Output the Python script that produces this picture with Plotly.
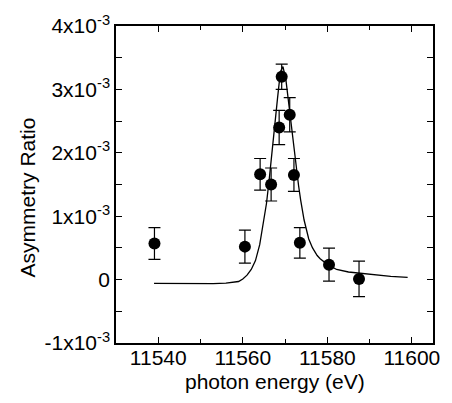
import plotly.graph_objects as go

# data (asymmetry values in units of 1e-3)
energy = [11539.1, 11560.5, 11564.1, 11566.7, 11568.6, 11569.2, 11571.1, 11572.1, 11573.5, 11580.4, 11587.5]
asym = [0.57, 0.52, 1.66, 1.50, 2.40, 3.20, 2.60, 1.65, 0.58, 0.235, 0.01]
err = [0.25, 0.26, 0.25, 0.26, 0.27, 0.20, 0.27, 0.26, 0.24, 0.26, 0.28]

fit_e = [11539, 11545, 11550, 11553, 11556, 11558, 11559, 11560, 11561, 11562, 11563, 11564,
         11565, 11565.6, 11566.2, 11566.8, 11567.5, 11568.2, 11568.9, 11569.5, 11570.2, 11571,
         11572, 11572.6, 11573.2, 11573.7, 11574.5, 11575.6, 11576.5, 11577.6, 11578.3, 11580,
         11582.2, 11585, 11590, 11595, 11599]
fit_v = [-0.06, -0.065, -0.07, -0.065, -0.055, -0.04, -0.03, 0.01, 0.07, 0.16, 0.30, 0.55,
         0.95, 1.20, 1.55, 1.97, 2.40, 2.85, 3.28, 3.36, 3.15, 2.70,
         2.10, 1.75, 1.48, 1.25, 0.94, 0.64, 0.50, 0.38, 0.33, 0.24,
         0.16, 0.12, 0.08, 0.05, 0.035]

ytick_vals = [-1, 0, 1, 2, 3, 4]
ytick_text = ["-1x10<sup>-3</sup>", "0", "1x10<sup>-3</sup>", "2x10<sup>-3</sup>",
              "3x10<sup>-3</sup>", "4x10<sup>-3</sup>"]
xtick_vals = [11540, 11560, 11580, 11600]
xtick_text = ["11540", "11560", "11580", "11600"]

font = dict(family="Liberation Sans, Arial, sans-serif", size=21, color="black")

fig = go.Figure()
fig.add_trace(go.Scatter(x=fit_e, y=fit_v, mode="lines",
                         line=dict(color="black", width=1.3), hoverinfo="skip"))
fig.add_trace(go.Scatter(x=energy, y=asym, mode="markers",
                         marker=dict(color="black", size=12),
                         error_y=dict(type="data", array=err, color="black",
                                      thickness=1.2, width=6)))

fig.update_layout(
    width=452, height=403,
    margin=dict(l=116, r=13, t=17, b=60),
    paper_bgcolor="white", plot_bgcolor="white",
    showlegend=False, font=font,
    xaxis=dict(range=[11530, 11605], tickvals=xtick_vals, ticktext=xtick_text,
               ticks="inside", ticklen=6, ticklabelstandoff=-5,
               tickwidth=1.2, tickcolor="black", showline=True, linecolor="black",
               linewidth=1.5, mirror="allticks", showgrid=False, zeroline=False,
               minor=dict(tickvals=[11530, 11550, 11570, 11590], ticks="inside",
                          ticklen=4, tickcolor="black"),
               tickfont=font),
    yaxis=dict(range=[-1, 4], tickvals=ytick_vals, ticktext=ytick_text, ticks="inside",
               ticklen=6, tickwidth=1.2, tickcolor="black", showline=True,
               linecolor="black", linewidth=1.5, mirror="allticks", showgrid=False,
               zeroline=False,
               minor=dict(tickvals=[-0.5, 0.5, 1.5, 2.5, 3.5], ticks="inside",
                          ticklen=6, tickcolor="black"),
               tickfont=font),
    annotations=[
        dict(text="photon energy (eV)", xref="paper", yref="paper", x=0.5, y=-0.123,
             showarrow=False, xanchor="center", yanchor="middle", font=font),
        dict(text="Asymmetry Ratio", xref="paper", yref="paper", x=-0.28, y=0.46,
             showarrow=False, textangle=-90, xanchor="center", yanchor="middle", font=font),
    ],
)

fig.write_html("out.html")
